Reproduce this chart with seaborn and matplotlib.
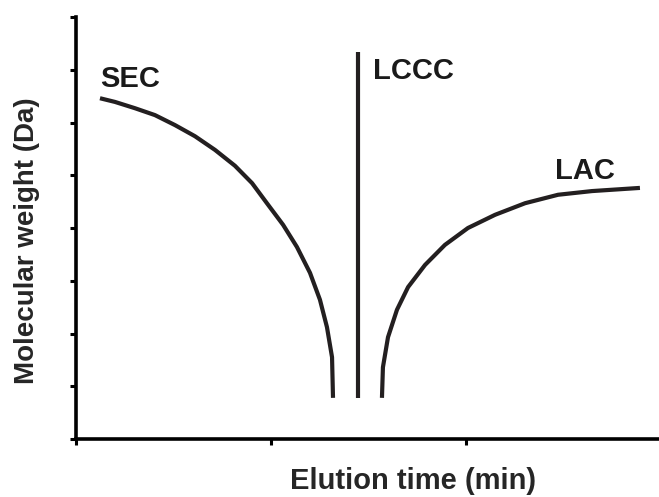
import matplotlib
matplotlib.use("Agg")
import matplotlib.pyplot as plt
import seaborn as sns
import pandas as pd

# Calibration curves for the three chromatographic modes
sec_time = [0.123, 0.200, 0.303, 0.405, 0.508, 0.610, 0.713, 0.815, 0.903,
            0.979, 1.062, 1.133, 1.200, 1.251, 1.287, 1.313, 1.318]
sec_mw = [6.46, 6.39, 6.27, 6.14, 5.95, 5.74, 5.48, 5.18, 4.85,
          4.47, 4.06, 3.64, 3.15, 2.64, 2.12, 1.55, 0.78]

lccc_time = [1.446, 1.446]
lccc_mw = [0.78, 7.34]

lac_time = [1.569, 1.574, 1.600, 1.646, 1.703, 1.790, 1.892, 2.010, 2.149,
            2.303, 2.472, 2.646, 2.892]
lac_mw = [0.78, 1.36, 1.93, 2.45, 2.88, 3.30, 3.68, 4.00, 4.25,
          4.47, 4.63, 4.70, 4.76]

modes = ["SEC", "LCCC", "LAC"]
x_ticks = [0, 1, 2]
y_ticks = [0, 1, 2, 3, 4, 5, 6, 7, 8]

sns.set_style("ticks")
plt.rcParams["font.family"] = ["Liberation Sans", "DejaVu Sans"]

frames = []
for name, t, m in zip(modes, [sec_time, lccc_time, lac_time], [sec_mw, lccc_mw, lac_mw]):
    frames.append(pd.DataFrame({"time": t, "mw": m, "mode": name}))
df = pd.concat(frames, ignore_index=True)

fig = plt.figure(figsize=(6.59, 4.97), dpi=100)
ax = fig.add_axes([76 / 659, 58 / 497, 583 / 659, 422 / 497])

curve_color = "#231f20"
sns.lineplot(data=df, x="time", y="mw", units="mode", estimator=None, sort=False,
             color=curve_color, linewidth=3.0, ax=ax, legend=False)
for line in ax.lines:
    line.set_solid_capstyle("butt")
    line.set_solid_joinstyle("round")

ax.set_xlim(0, 583 / 195)
ax.set_ylim(0, 8)
ax.set_xticks(x_ticks)
ax.set_yticks(y_ticks)
ax.set_xticklabels([])
ax.set_yticklabels([])
ax.tick_params(direction="out", length=4.5, width=2.2, color="black")

for side in ["top", "right"]:
    ax.spines[side].set_visible(False)
for side in ["left", "bottom"]:
    ax.spines[side].set_linewidth(2.6)
    ax.spines[side].set_color("black")
    ax.spines[side].set_capstyle("projecting")

label_font = dict(fontsize=21, fontweight="bold", color="#1a1a1a")
ax.text(0.123, 6.67, "SEC", va="baseline", ha="left", **label_font)
ax.text(1.523, 6.82, "LCCC", va="baseline", ha="left", **label_font)
ax.text(2.456, 4.93, "LAC", va="baseline", ha="left", **label_font)

ax.set_xlabel("Elution time (min)", fontsize=21, fontweight="bold", labelpad=12)
ax.set_ylabel("Molecular weight (Da)", fontsize=20, fontweight="bold", labelpad=18)
ax.xaxis.label.set_x(0.578)
ax.yaxis.label.set_y(0.47)

fig.savefig("out.png", dpi=100)
